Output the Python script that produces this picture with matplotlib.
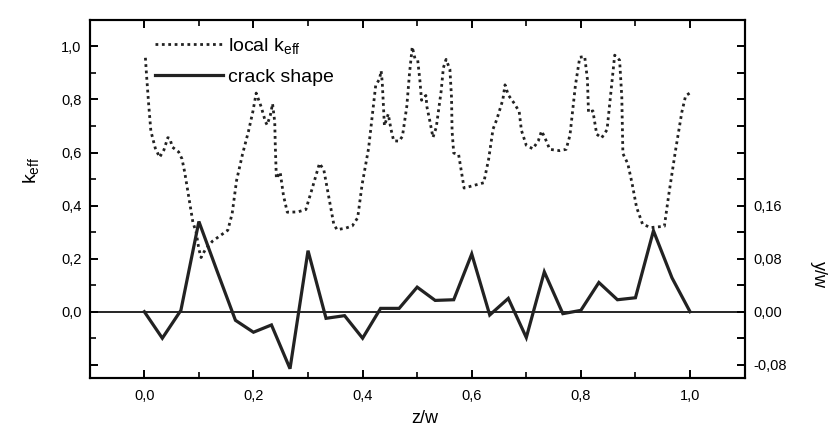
import matplotlib
matplotlib.use("Agg")
import matplotlib.pyplot as plt
from matplotlib.ticker import MultipleLocator

plt.rcParams['font.family'] = ['Liberation Sans', 'DejaVu Sans']
plt.rcParams['mathtext.fontset'] = 'custom'
plt.rcParams['mathtext.rm'] = 'Liberation Sans'
plt.rcParams['mathtext.it'] = 'Liberation Sans:italic'

# local k_eff (dotted curve)
keff_z = [0.002, 0.004, 0.008, 0.012, 0.020, 0.028, 0.036, 0.043, 0.047, 0.051,
          0.063, 0.069, 0.074, 0.082, 0.089, 0.095, 0.100, 0.104, 0.112, 0.125,
          0.153, 0.161, 0.169, 0.180, 0.191, 0.199, 0.205, 0.214, 0.222, 0.225,
          0.231, 0.235, 0.239, 0.240, 0.242, 0.249, 0.255, 0.262, 0.281, 0.296,
          0.307, 0.321, 0.329, 0.337, 0.347, 0.353, 0.369, 0.381, 0.391, 0.399,
          0.411, 0.420, 0.424, 0.431, 0.434, 0.436, 0.440, 0.447, 0.452, 0.457,
          0.467, 0.473, 0.481, 0.486, 0.491, 0.496, 0.501, 0.505, 0.508, 0.516,
          0.518, 0.523, 0.529, 0.535, 0.544, 0.548, 0.553, 0.560, 0.563, 0.564,
          0.567, 0.576, 0.581, 0.586, 0.602, 0.622, 0.631, 0.639, 0.646, 0.657,
          0.661, 0.667, 0.678, 0.687, 0.691, 0.700, 0.712, 0.722, 0.728, 0.734,
          0.743, 0.761, 0.773, 0.780, 0.790, 0.798, 0.807, 0.812, 0.814, 0.822,
          0.829, 0.838, 0.848, 0.858, 0.862, 0.871, 0.875, 0.877, 0.886, 0.894,
          0.902, 0.913, 0.928, 0.953, 0.961, 0.973, 0.985, 0.992, 1.001]
keff_val = [0.957, 0.894, 0.781, 0.681, 0.617, 0.582, 0.610, 0.656, 0.653, 0.621,
            0.602, 0.576, 0.526, 0.425, 0.337, 0.299, 0.236, 0.204, 0.235, 0.266,
            0.307, 0.370, 0.494, 0.594, 0.681, 0.755, 0.824, 0.773, 0.716, 0.704,
            0.741, 0.784, 0.715, 0.627, 0.502, 0.526, 0.438, 0.375, 0.376, 0.385,
            0.460, 0.559, 0.534, 0.445, 0.332, 0.309, 0.315, 0.323, 0.354, 0.478,
            0.616, 0.778, 0.853, 0.877, 0.908, 0.865, 0.701, 0.745, 0.688, 0.644,
            0.643, 0.661, 0.774, 0.899, 0.998, 0.954, 0.948, 0.872, 0.797, 0.815,
            0.771, 0.721, 0.657, 0.695, 0.832, 0.919, 0.951, 0.913, 0.806, 0.680,
            0.598, 0.592, 0.529, 0.466, 0.475, 0.486, 0.575, 0.688, 0.725, 0.799,
            0.855, 0.817, 0.785, 0.754, 0.684, 0.627, 0.614, 0.644, 0.681, 0.656,
            0.612, 0.607, 0.612, 0.665, 0.853, 0.959, 0.962, 0.876, 0.751, 0.757,
            0.669, 0.655, 0.686, 0.886, 0.967, 0.948, 0.809, 0.596, 0.558, 0.482,
            0.394, 0.330, 0.317, 0.322, 0.440, 0.602, 0.752, 0.814, 0.826]

# crack shape (solid curve, y/w on right axis)
crack_z = [0.000, 0.033, 0.067, 0.100, 0.133, 0.167, 0.200, 0.233, 0.267, 0.300,
           0.333, 0.367, 0.400, 0.433, 0.467, 0.500, 0.533, 0.567, 0.600, 0.633,
           0.667, 0.700, 0.733, 0.767, 0.800, 0.833, 0.867, 0.900, 0.933, 0.967,
           1.000]
crack_yw = [0.000, -0.040, 0.002, 0.136, 0.062, -0.013, -0.031, -0.020, -0.086, 0.092,
            -0.010, -0.006, -0.040, 0.005, 0.005, 0.037, 0.017, 0.018, 0.087, -0.005,
            0.020, -0.039, 0.060, -0.003, 0.002, 0.044, 0.018, 0.021, 0.122, 0.051,
            0.000]

x_ticks = [0.0, 0.2, 0.4, 0.6, 0.8, 1.0]
x_labels = ['0,0', '0,2', '0,4', '0,6', '0,8', '1,0']
left_ticks = [-0.2, 0.0, 0.2, 0.4, 0.6, 0.8, 1.0]
left_labels = ['', '0,0', '0,2', '0,4', '0,6', '0,8', '1,0']
right_ticks = [-0.08, -0.04, 0.00, 0.04, 0.08, 0.12, 0.16, 0.20, 0.24, 0.28, 0.32, 0.36, 0.40]
right_labels = ['-0,08', '', '0,00', '', '0,08', '', '0,16', '', '', '', '', '', '']

fig = plt.figure(figsize=(8.31, 4.32), dpi=100)
ax = fig.add_axes([0.108, 0.125, 0.788, 0.829])
ax2 = ax.twinx()

ax.set_xlim(-0.1, 1.1)
ax.set_ylim(-0.25, 1.1)
ax2.set_ylim(-0.1, 0.44)

ax.axhline(0, color='black', lw=1.2, zorder=1)

l1, = ax.plot(keff_z, keff_val, color='#222222', lw=2.0, linestyle=(0, (1, 1.3)),
              label=r'local k$_\mathregular{eff}$')
l2, = ax2.plot(crack_z, crack_yw, color='#222222', lw=2.3, solid_joinstyle='miter',
               label='crack shape')

ax.set_xticks(x_ticks, x_labels)
ax.xaxis.set_minor_locator(MultipleLocator(0.1))
ax.set_yticks(left_ticks, left_labels)
ax.yaxis.set_minor_locator(MultipleLocator(0.1))
ax2.set_yticks(right_ticks, right_labels)

for a in (ax, ax2):
    for s in a.spines.values():
        s.set_linewidth(1.5)
ax.tick_params(axis='both', which='major', direction='in', length=6, width=1.4,
               labelsize=10.5, top=True, pad=6)
ax.tick_params(axis='both', which='minor', direction='in', length=4, width=1.2, top=True)
ax.tick_params(axis='x', pad=8)
ax2.tick_params(axis='y', direction='in', length=6, width=1.4, labelsize=10.5, pad=6)

ax.set_xlabel('z/w', fontsize=13)
ax.xaxis.set_label_coords(0.511, -0.09)
ax.set_ylabel(r'k$_\mathregular{eff}$', fontsize=14)
ax.yaxis.set_label_coords(-0.075, 0.58)
ax2.set_ylabel('y/w', fontsize=13, rotation=-90, va='bottom')
ax2.yaxis.set_label_coords(1.1, 0.29)

ax.legend(handles=[l1, l2], loc='upper left', bbox_to_anchor=(0.099, 0.955),
          frameon=False, fontsize=14, handlelength=3.5, handletextpad=0.3,
          borderpad=0, borderaxespad=0, labelspacing=0.65)

fig.savefig('out.png', dpi=100)
